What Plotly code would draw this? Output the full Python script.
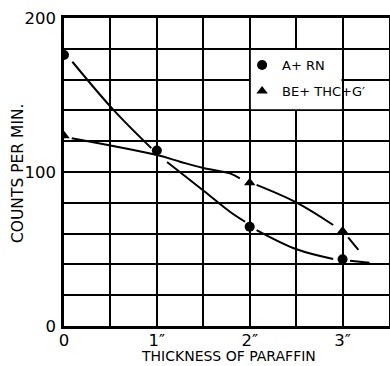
import plotly.graph_objects as go

# ---- data ----
thickness_a = [0, 1, 2, 3]
counts_a = [176, 114, 64.5, 43.3]          # A+ RN (circles)
thickness_b = [0, 2, 3]
counts_b = [123.5, 93, 61.7]               # BE+THC+G' (triangles)

# hand-drawn fitted curves (broken around the markers)
curve_a_x = [0.09, 0.53, 0.94, None, 1.11, 1.5, 1.787, 1.95, None, 2.074, 2.505, 2.899, None, 3.08, 3.29]
curve_a_y = [171.6, 140.5, 115.5, None, 106.5, 88, 74.2, 67.7, None, 62.3, 49.8, 43.5, None, 42.4, 41.1]
curve_b_x = [0.083, 1.0, 1.25, 1.5, 1.787, 1.894, None, 2.074, 2.505, 2.899, None, 3.06, 3.17]
curve_b_y = [121.9, 111, 106.7, 102.6, 99.1, 95.9, None, 91.6, 80.1, 65.6, None, 57.6, 49.4]

x_tickvals = [0, 1, 2, 3]
x_ticktext = ["0", "1″", "2″", "3″"]
y_tickvals = [0, 100, 200]
y_ticktext = ["0", "100", "200"]
x_title = "THICKNESS OF PARAFFIN"
y_title = "COUNTS PER MIN."

FONT = "DejaVu Sans"

fig = go.Figure()
fig.add_trace(go.Scatter(x=curve_a_x, y=curve_a_y, mode="lines", showlegend=False,
                         line=dict(color="black", width=2, shape="spline", smoothing=1),
                         connectgaps=False, hoverinfo="skip"))
fig.add_trace(go.Scatter(x=curve_b_x, y=curve_b_y, mode="lines", showlegend=False,
                         line=dict(color="black", width=2, shape="spline", smoothing=1),
                         connectgaps=False, hoverinfo="skip"))
fig.add_trace(go.Scatter(x=thickness_a, y=counts_a, mode="markers", name="A+ RN",
                         marker=dict(symbol="circle", size=10, color="black"),
                         legendgroup="a"))
fig.add_trace(go.Scatter(x=thickness_b, y=counts_b, mode="markers", name="BE+ THC+G′",
                         marker=dict(symbol="triangle-up", size=10, color="black"),
                         legendgroup="b"))

# white box behind the legend (covers the grid cell block)
fig.add_shape(type="rect", xref="x", yref="y", x0=2.012, x1=2.988, y0=140.8, y1=179.2,
              fillcolor="white", line=dict(width=0), layer="between")

# axis titles
fig.add_annotation(text=x_title, xref="paper", yref="paper", x=(228 - 64) / 325, y=-(365.5 - 326) / 308,
                   xanchor="center", yanchor="bottom", showarrow=False,
                   font=dict(family=FONT, size=14, color="black"))
fig.add_annotation(text=y_title, xref="paper", yref="paper", x=(18 - 64) / 325, y=(326 - 173) / 308,
                   xanchor="center", yanchor="middle", showarrow=False, textangle=-90,
                   font=dict(family=FONT, size=15.5, color="black"))

axis_common = dict(showline=True, mirror=True, linecolor="black", linewidth=2.5,
                   showgrid=True, gridcolor="black", gridwidth=2, zeroline=False,
                   ticks="", automargin=False,
                   tickfont=dict(family=FONT, size=16.5, color="black"))

fig.update_xaxes(range=[0, 3.5], tickmode="array", tickvals=x_tickvals, ticktext=x_ticktext,
                 minor=dict(dtick=0.5, tick0=0, showgrid=True, gridcolor="black", gridwidth=2),
                 ticklabelstandoff=-3, **axis_common)
fig.update_yaxes(range=[0, 200], tickmode="array", tickvals=y_tickvals, ticktext=y_ticktext,
                 minor=dict(dtick=20, tick0=0, showgrid=True, gridcolor="black", gridwidth=2),
                 ticklabelstandoff=2, **axis_common)

fig.update_layout(
    width=390, height=366,
    margin=dict(l=64, r=1, t=18, b=40),
    paper_bgcolor="white", plot_bgcolor="white",
    showlegend=True,
    legend=dict(x=0.548, y=0.896, xanchor="left", yanchor="top",
                bgcolor="rgba(0,0,0,0)", borderwidth=0,
                font=dict(family=FONT, size=13, color="black"),
                traceorder="grouped", tracegroupgap=6, itemwidth=30),
)

fig.write_html("out.html", config={"displayModeBar": False},
               post_script="document.body.style.margin='0px';")
